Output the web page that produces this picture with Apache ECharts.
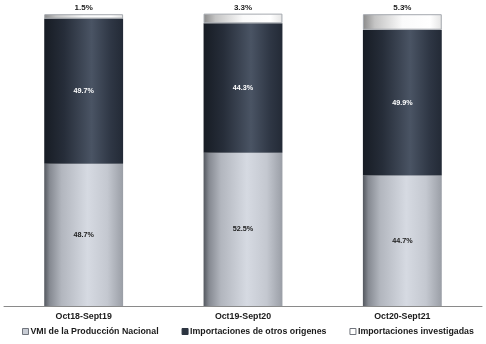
<!DOCTYPE html>
<html>
<head>
<meta charset="utf-8">
<script src="https://cdn.jsdelivr.net/npm/echarts@6/dist/echarts.min.js"></script>
<style>
  html, body { margin: 0; padding: 0; background: #fff; }
  #chart { width: 486px; height: 344px; }
</style>
</head>
<body>
<div id="chart"></div>
<script>
// Periods on the x axis
const periods = ['Oct18-Sept19', 'Oct19-Sept20', 'Oct20-Sept21'];
// Share of the national apparent consumption (%)
const vmiNacional = [48.7, 52.5, 44.7];
const otrosOrigenes = [49.7, 44.3, 49.9];
const investigadas = [1.5, 3.3, 5.3];

const seriesNames = [
  'VMI de la Producción Nacional',
  'Importaciones de otros origenes',
  'Importaciones investigadas'
];

// Horizontal gradients give each stacked segment a cylinder-like shading
function shade(stops) {
  return new echarts.graphic.LinearGradient(0, 0, 1, 0,
    stops.map(s => ({ offset: s[0], color: s[1] })));
}
const lightFill = shade([[0, '#54585f'], [0.07, '#868a92'], [0.22, '#b2b6be'], [0.55, '#d6dae2'], [0.8, '#c4c8d0'], [1, '#9a9ea6']]);
const darkFill = shade([[0, '#171c24'], [0.25, '#262d39'], [0.6, '#4a5464'], [0.85, '#2e3644'], [1, '#232a36']]);
const whiteFill = shade([[0, '#8a8a8a'], [0.15, '#c4c4c4'], [0.5, '#fafafa'], [0.85, '#ffffff'], [1, '#e4e4e4']]);

const fmt = p => p.value.toFixed(1) + '%';

const chart = echarts.init(document.getElementById('chart'));
chart.setOption({
  animation: false,
  textStyle: { fontFamily: 'Liberation Sans, Arial, sans-serif' },
  grid: { left: 4, right: 4, top: 11, bottom: 38 },
  legend: {
    top: 327,
    left: 22,
    padding: 0,
    itemWidth: 6,
    itemHeight: 6,
    itemGap: 23,
    textStyle: { fontSize: 8.8, fontWeight: 'bold', color: '#1a1a1a', padding: [0, 0, 0, -3] },
    data: [
      { name: seriesNames[0], icon: 'rect', itemStyle: { color: '#c8ccd4', borderColor: '#70747c', borderWidth: 1 } },
      { name: seriesNames[1], icon: 'rect', itemStyle: { color: '#2c3440', borderColor: '#2c3440', borderWidth: 1 } },
      { name: seriesNames[2], icon: 'rect', itemStyle: { color: '#ffffff', borderColor: '#70747c', borderWidth: 1 } }
    ]
  },
  xAxis: {
    type: 'category',
    data: periods,
    axisLine: { lineStyle: { color: '#8a8a8a', width: 1 } },
    axisTick: { show: false },
    axisLabel: { fontSize: 8.8, fontWeight: 'bold', color: '#1a1a1a', margin: 6 }
  },
  yAxis: {
    type: 'value',
    min: 0,
    max: 101,
    show: false,
    splitLine: { show: false }
  },
  series: [
    {
      name: seriesNames[0],
      type: 'bar',
      stack: 'total',
      barWidth: '49.5%',
      data: vmiNacional,
      itemStyle: { color: lightFill },
      label: { show: true, position: 'inside', formatter: fmt, fontSize: 7.2, fontWeight: 'bold', color: '#1a1a1a' }
    },
    {
      name: seriesNames[1],
      type: 'bar',
      stack: 'total',
      data: otrosOrigenes,
      itemStyle: { color: darkFill },
      label: { show: true, position: 'inside', formatter: fmt, fontSize: 7.2, fontWeight: 'bold', color: '#ffffff' }
    },
    {
      name: seriesNames[2],
      type: 'bar',
      stack: 'total',
      data: investigadas,
      itemStyle: { color: whiteFill, borderColor: '#a4a8ae', borderWidth: 1 },
      label: { show: true, position: 'top', distance: 2, formatter: fmt, fontSize: 8, fontWeight: 'bold', color: '#1a1a1a' }
    }
  ]
});
</script>
</body>
</html>
